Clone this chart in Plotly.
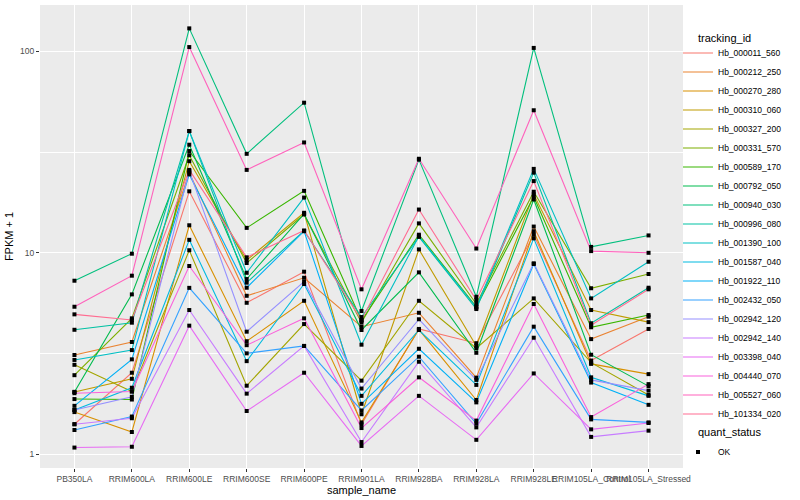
import plotly.graph_objects as go

samples = ["PB350LA", "RRIM600LA", "RRIM600LE", "RRIM600SE", "RRIM600PE", "RRIM901LA",
           "RRIM928BA", "RRIM928LA", "RRIM928LE", "RRIM105LA_Control", "RRIM105LA_Stressed"]

tracking_ids = ["Hb_000011_560", "Hb_000212_250", "Hb_000270_280", "Hb_000310_060", "Hb_000327_200",
                "Hb_000331_570", "Hb_000589_170", "Hb_000792_050", "Hb_000940_030", "Hb_000996_080",
                "Hb_001390_100", "Hb_001587_040", "Hb_001922_110", "Hb_002432_050", "Hb_002942_120",
                "Hb_002942_140", "Hb_003398_040", "Hb_004440_070", "Hb_005527_060", "Hb_101334_020"]

colors = ["#F8766D", "#EA8331", "#D89000", "#C09B00", "#A3A500", "#7CAE00", "#39B600", "#00BB4E",
          "#00BF7D", "#00C1A3", "#00BFC4", "#00BAE0", "#00B0F6", "#35A2FF", "#9590FF", "#C77CFF",
          "#E76BF3", "#FA62DB", "#FF62BC", "#FF6C91"]

hb_000011_560 = [1.41, 2.54, 20.2, 5.65, 8.06, 1.41, 4.19, 3.56, 12.3, 2.92, 4.19]
hb_000212_250 = [3.11, 3.61, 25.0, 6.12, 7.52, 4.30, 5.04, 2.40, 13.5, 3.73, 4.82]
hb_000270_280 = [1.62, 1.29, 13.7, 3.64, 5.78, 1.44, 4.16, 1.86, 12.8, 2.81, 2.50]
hb_000310_060 = [2.04, 2.37, 28.5, 9.2, 15.8, 1.58, 10.4, 3.45, 19.5, 5.20, 4.53]
hb_000327_200 = [2.78, 2.05, 10.3, 2.19, 4.43, 2.32, 5.78, 3.36, 5.94, 2.85, 1.97]
hb_000331_570 = [2.47, 4.73, 30.5, 8.9, 15.5, 4.51, 14.0, 5.57, 20.1, 6.67, 7.85]
hb_000589_170 = [1.88, 1.87, 32.0, 13.3, 20.3, 4.6, 12.3, 5.40, 19.0, 4.27, 4.91]
hb_000792_050 = [2.04, 6.22, 34.4, 7.41, 15.6, 4.14, 8.0, 3.19, 18.4, 3.12, 2.18]
hb_000940_030 = [7.27, 9.9, 130, 31, 55.6, 5.14, 29.0, 6.05, 104, 10.7, 12.2]
hb_000996_080 = [4.15, 4.50, 40.2, 7.11, 12.85, 4.8, 12.0, 5.26, 25.0, 4.47, 6.71]
hb_001390_100 = [2.94, 3.29, 40.2, 7.96, 18.8, 3.50, 12.1, 5.35, 26.1, 5.94, 9.03]
hb_001587_040 = [1.66, 2.14, 11.6, 2.90, 7.00, 1.95, 4.14, 2.21, 11.8, 2.41, 1.95]
hb_001922_110 = [1.74, 2.96, 24.5, 6.71, 12.8, 1.78, 3.34, 1.81, 8.8, 2.27, 1.76]
hb_002432_050 = [1.32, 1.54, 6.7, 3.17, 3.45, 1.65, 3.05, 1.42, 4.30, 1.49, 1.44]
hb_002942_120 = [1.66, 1.93, 25.5, 4.06, 7.19, 2.12, 4.68, 2.34, 8.87, 2.34, 2.07]
hb_002942_140 = [1.41, 1.51, 5.2, 2.00, 3.45, 1.15, 2.88, 1.36, 3.79, 1.22, 1.31]
hb_003398_040 = [1.08, 1.09, 4.35, 1.64, 2.54, 1.10, 1.95, 1.18, 2.52, 1.33, 1.43]
hb_004440_070 = [2.01, 2.05, 8.6, 3.48, 4.73, 1.35, 2.41, 1.47, 5.57, 1.53, 2.23]
hb_005527_060 = [5.40, 7.7, 105, 25.8, 35.3, 6.59, 29.3, 10.5, 51, 10.2, 10.0]
hb_101334_020 = [4.95, 4.64, 25.8, 9.5, 12.9, 4.64, 16.4, 5.83, 22.7, 4.37, 6.59]

series = [hb_000011_560, hb_000212_250, hb_000270_280, hb_000310_060, hb_000327_200,
          hb_000331_570, hb_000589_170, hb_000792_050, hb_000940_030, hb_000996_080,
          hb_001390_100, hb_001587_040, hb_001922_110, hb_002432_050, hb_002942_120,
          hb_002942_140, hb_003398_040, hb_004440_070, hb_005527_060, hb_101334_020]

y_ticks = [1, 10, 100]
y_minor = [10 ** 0.5, 10 ** 1.5]

FONT = "Liberation Sans, Arial, sans-serif"
PLOT_TOP, PLOT_BOTTOM, PLOT_LEFT, PLOT_RIGHT = 5, 468, 40, 683
PH = PLOT_BOTTOM - PLOT_TOP
PW = PLOT_RIGHT - PLOT_LEFT
LEG_OFF = 14.5  # distance from legend top to first item centre


def py(pix):
    return (PLOT_BOTTOM - pix) / PH


def px(pix):
    return (pix - PLOT_LEFT) / PW


fig = go.Figure()
for name, col, vals in zip(tracking_ids, colors, series):
    fig.add_trace(go.Scatter(x=samples, y=vals, mode="lines", name=name,
                             line=dict(color=col, width=1.1), legend="legend"))

all_x = [s for vals in series for s in samples]
all_y = [v for vals in series for v in vals]
fig.add_trace(go.Scatter(x=all_x, y=all_y, mode="markers", name="OK",
                         marker=dict(color="black", size=4, symbol="square"),
                         legend="legend2"))

fig.update_layout(
    width=800, height=500,
    margin=dict(l=PLOT_LEFT, r=800 - PLOT_RIGHT, t=PLOT_TOP, b=500 - PLOT_BOTTOM, autoexpand=False),
    paper_bgcolor="white", plot_bgcolor="#EBEBEB",
    font=dict(family=FONT, size=9, color="#4D4D4D"),
    xaxis=dict(type="category", categoryorder="array", categoryarray=samples,
               range=[-0.6, 10.6], showgrid=True, gridcolor="white", gridwidth=1.1,
               ticks="outside", ticklen=3, tickcolor="#333333", tickwidth=1, tickangle=0,
               tickfont=dict(size=8.5, color="#4D4D4D"), zeroline=False, showline=False,
               automargin=False),
    yaxis=dict(type="log", range=[-0.068, 2.230], tickvals=y_ticks, ticktext=["1", "10", "100"],
               showgrid=True, gridcolor="white", gridwidth=1.1,
               minor=dict(tickvals=y_minor, showgrid=True, gridcolor="white", gridwidth=0.5, ticks=""),
               ticks="outside", ticklen=3, tickcolor="#333333", tickwidth=1,
               tickfont=dict(size=8.5, color="#4D4D4D"), zeroline=False, showline=False,
               automargin=False,
               title=dict(text="FPKM + 1", font=dict(size=11, color="black"), standoff=4)),
    legend=dict(x=px(678), xanchor="left", y=py(53 - LEG_OFF), yanchor="top",
                font=dict(size=8.5, color="black"), bgcolor="rgba(0,0,0,0)",
                itemwidth=30, tracegroupgap=0),
    legend2=dict(x=px(678), xanchor="left", y=py(452 - LEG_OFF), yanchor="top",
                 font=dict(size=8.5, color="black"), bgcolor="rgba(0,0,0,0)", itemwidth=30),
    annotations=[
        dict(text="sample_name", xref="paper", yref="paper", x=0.5, y=py(489.5),
             xanchor="center", yanchor="middle", showarrow=False,
             font=dict(size=11, color="black")),
        dict(text="tracking_id", xref="paper", yref="paper", x=px(696), y=py(38),
             xanchor="left", yanchor="middle", showarrow=False,
             font=dict(size=11, color="black")),
        dict(text="quant_status", xref="paper", yref="paper", x=px(696), y=py(432),
             xanchor="left", yanchor="middle", showarrow=False,
             font=dict(size=11, color="black")),
    ],
)

fig.write_html("out.html", config={"displayModeBar": False},
               post_script="document.body.style.margin='0';document.body.style.overflow='hidden';")
